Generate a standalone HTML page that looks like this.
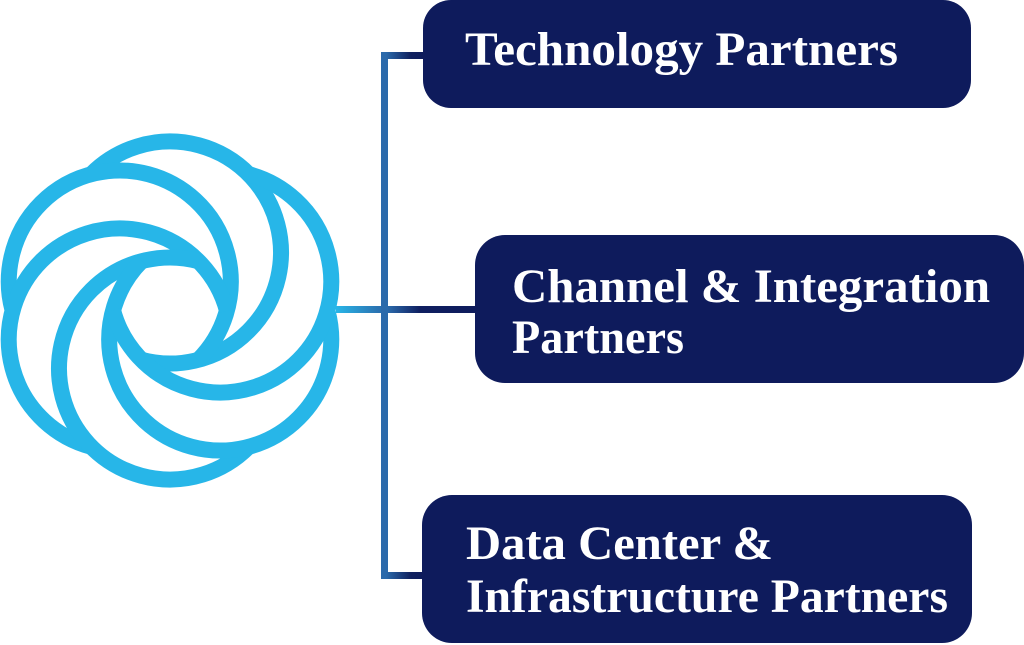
<!DOCTYPE html>
<html>
<head>
<meta charset="utf-8">
<style>
  html, body { margin: 0; padding: 0; background: #ffffff; }
  body { width: 1024px; height: 645px; overflow: hidden; }
  svg { display: block; }
  text { font-family: "Liberation Serif", serif; font-weight: bold; font-size: 48px; fill: #ffffff; }
</style>
</head>
<body>
<svg width="1024" height="645" viewBox="0 0 1024 645" xmlns="http://www.w3.org/2000/svg">
  <defs>
    <linearGradient id="gMid" gradientUnits="userSpaceOnUse" x1="336" y1="0" x2="476" y2="0">
      <stop offset="0" stop-color="#29b6e8"/>
      <stop offset="0.3" stop-color="#2a73b2"/>
      <stop offset="0.37" stop-color="#2b6aab"/>
      <stop offset="0.6" stop-color="#0f1f60"/>
      <stop offset="1" stop-color="#0e1b5c"/>
    </linearGradient>
    <linearGradient id="gSide" gradientUnits="userSpaceOnUse" x1="386" y1="0" x2="424" y2="0">
      <stop offset="0" stop-color="#2b6aab"/>
      <stop offset="0.65" stop-color="#10215f"/>
      <stop offset="1" stop-color="#0e1b5c"/>
    </linearGradient>
  </defs>

  <!-- Logo -->
  <g fill="none" stroke="#27b6e8" stroke-width="16" stroke-linecap="butt">
    <path d="M141.27,359.72 A111,111 0 1 0 91.51,174.01"/>
    <path d="M198.26,359.99 A111,111 0 1 0 12.55,310.23"/>
    <path d="M226.99,310.77 A111,111 0 1 0 91.04,446.72"/>
    <path d="M198.73,261.28 A111,111 0 1 0 248.49,446.99"/>
    <path d="M141.74,261.01 A111,111 0 1 0 327.45,310.77"/>
    <path d="M113.01,310.23 A111,111 0 1 0 248.96,174.28"/>
  </g>

  <!-- Connectors -->
  <rect x="336" y="306" width="141" height="7" fill="url(#gMid)"/>
  <rect x="381" y="52" width="7" height="527" fill="#2b6aab"/>
  <rect x="386" y="52" width="38" height="7" fill="url(#gSide)"/>
  <rect x="386" y="572" width="38" height="7" fill="url(#gSide)"/>

  <!-- Boxes -->
  <rect x="423" y="0" width="548" height="108" rx="28" ry="28" fill="#0e1b5c"/>
  <rect x="475" y="235" width="549" height="148" rx="30" ry="30" fill="#0e1b5c"/>
  <rect x="422" y="495" width="550" height="148" rx="30" ry="30" fill="#0e1b5c"/>

  <!-- Labels -->
  <text x="465" y="65" textLength="433" lengthAdjust="spacingAndGlyphs">Technology Partners</text>
  <text x="512" y="302" textLength="478" lengthAdjust="spacingAndGlyphs">Channel &amp; Integration</text>
  <text x="512" y="353" textLength="172" lengthAdjust="spacingAndGlyphs">Partners</text>
  <text x="466" y="559" textLength="307" lengthAdjust="spacingAndGlyphs">Data Center &amp;</text>
  <text x="466" y="612" textLength="482" lengthAdjust="spacingAndGlyphs">Infrastructure Partners</text>
</svg>
</body>
</html>
